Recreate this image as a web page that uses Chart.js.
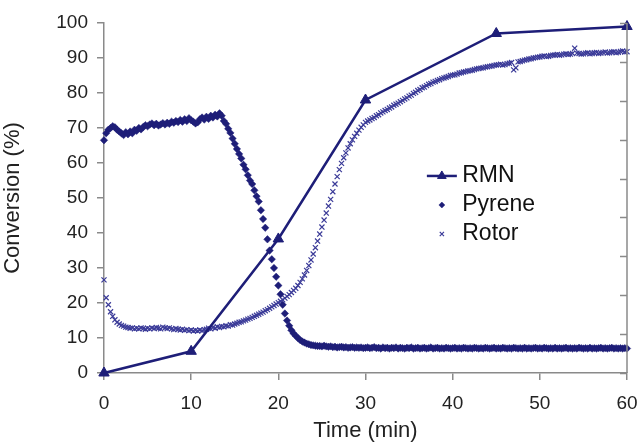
<!DOCTYPE html>
<html>
<head>
<meta charset="utf-8">
<script src="https://cdn.jsdelivr.net/npm/chart.js@4/dist/chart.umd.min.js"></script>
<style>
  html, body { margin: 0; padding: 0; background: #fff; }
  #wrap { width: 638px; height: 446px; }
</style>
</head>
<body>
<div id="wrap"><canvas id="chart" width="638" height="446"></canvas></div>
<script>
/* ---- data ---- */
const rmnTime = [0, 10, 20, 30, 45, 60];
const rmnConv = [0, 6.2, 38.3, 78, 97, 99];

// sampling times for the fluorescence probes (min), one row = 3 min
const probeTime = [
  0, 0.25, 0.5, 0.75, 1, 1.25, 1.5, 1.75, 2, 2.25, 2.5, 2.75,
  3, 3.25, 3.5, 3.75, 4, 4.25, 4.5, 4.75, 5, 5.25, 5.5, 5.75,
  6, 6.25, 6.5, 6.75, 7, 7.25, 7.5, 7.75, 8, 8.25, 8.5, 8.75,
  9, 9.25, 9.5, 9.75, 10, 10.25, 10.5, 10.75, 11, 11.25, 11.5, 11.75,
  12, 12.25, 12.5, 12.75, 13, 13.25, 13.5, 13.75, 14, 14.25, 14.5, 14.75,
  15, 15.25, 15.5, 15.75, 16, 16.25, 16.5, 16.75, 17, 17.25, 17.5, 17.75,
  18, 18.25, 18.5, 18.75, 19, 19.25, 19.5, 19.75, 20, 20.25, 20.5, 20.75,
  21, 21.25, 21.5, 21.75, 22, 22.25, 22.5, 22.75, 23, 23.25, 23.5, 23.75,
  24, 24.25, 24.5, 24.75, 25, 25.25, 25.5, 25.75, 26, 26.25, 26.5, 26.75,
  27, 27.25, 27.5, 27.75, 28, 28.25, 28.5, 28.75, 29, 29.25, 29.5, 29.75,
  30, 30.25, 30.5, 30.75, 31, 31.25, 31.5, 31.75, 32, 32.25, 32.5, 32.75,
  33, 33.25, 33.5, 33.75, 34, 34.25, 34.5, 34.75, 35, 35.25, 35.5, 35.75,
  36, 36.25, 36.5, 36.75, 37, 37.25, 37.5, 37.75, 38, 38.25, 38.5, 38.75,
  39, 39.25, 39.5, 39.75, 40, 40.25, 40.5, 40.75, 41, 41.25, 41.5, 41.75,
  42, 42.25, 42.5, 42.75, 43, 43.25, 43.5, 43.75, 44, 44.25, 44.5, 44.75,
  45, 45.25, 45.5, 45.75, 46, 46.25, 46.5, 46.75, 47, 47.25, 47.5, 47.75,
  48, 48.25, 48.5, 48.75, 49, 49.25, 49.5, 49.75, 50, 50.25, 50.5, 50.75,
  51, 51.25, 51.5, 51.75, 52, 52.25, 52.5, 52.75, 53, 53.25, 53.5, 53.75,
  54, 54.25, 54.5, 54.75, 55, 55.25, 55.5, 55.75, 56, 56.25, 56.5, 56.75,
  57, 57.25, 57.5, 57.75, 58, 58.25, 58.5, 58.75, 59, 59.25, 59.5, 59.75,
  60
];

const pyreneConv = [
  66.5, 68.5, 69.5, 70, 70.5, 70.2, 69.5, 69, 68.5, 68, 68.8, 68.2,
  69, 68.5, 69.5, 69.2, 70, 69.6, 70.3, 70.8, 70.5, 71, 71.3, 70.8,
  71.2, 70.7, 71, 71.4, 71, 71.5, 71.2, 71.8, 71.5, 72, 71.7, 72.3,
  71.8, 72.5, 72, 72.8, 72.2, 71.8, 71.3, 71.6, 72.5, 73, 72.4, 73.2,
  72.6, 73.5, 73, 73.8, 73.3, 74.2, 73.5, 72, 71.2, 69.8, 68.6, 67,
  65.5, 64, 62.6, 61.3, 59.5, 58.2, 56.5, 55, 54, 52.2, 50.5, 49,
  46.5, 44, 41.5, 38.2, 35, 32.5, 30, 27.5, 25, 22.5, 19.5, 17,
  15, 13.5, 12.2, 11.3, 10.6, 10, 9.4, 9, 8.7, 8.4, 8.2, 8,
  7.9, 7.8, 7.7, 7.7, 7.6, 7.8, 7.6, 7.5, 7.6, 7.4, 7.5, 7.3,
  7.4, 7.5, 7.3, 7.4, 7.2, 7.3, 7.4, 7.2, 7.3, 7.2, 7.3, 7.1,
  7.2, 7.3, 7.1, 7.2, 7.4, 7.1, 7.2, 7.0, 7.3, 7.1, 7.2, 7.0,
  7.2, 7.1, 7.3, 7.0, 7.2, 7.1, 7.0, 7.2, 7.1, 7.3, 7.0, 7.1,
  7.2, 7.0, 7.1, 7.2, 7.0, 7.1, 7.3, 7.0, 7.1, 7.2, 7.0, 7.1,
  7.0, 7.2, 7.1, 7.0, 7.1, 7.2, 7.0, 7.1, 7.0, 7.2, 7.1, 7.0,
  7.1, 7.0, 7.2, 7.1, 7.0, 7.1, 7.0, 7.2, 7.1, 7.0, 7.1, 7.2,
  7.0, 7.1, 7.0, 7.2, 7.1, 7.0, 7.1, 7.0, 7.2, 7.1, 7.0, 7.1,
  7.0, 7.2, 7.0, 7.1, 7.0, 7.1, 7.2, 7.0, 7.1, 7.0, 7.2, 7.1,
  7.0, 7.1, 7.0, 7.2, 7.0, 7.1, 7.0, 7.1, 7.2, 7.0, 7.1, 7.0,
  7.1, 7.0, 7.2, 7.1, 7.0, 7.1, 7.0, 7.2, 7.0, 7.1, 7.0, 7.1,
  7.2, 7.0, 7.1, 7.0, 7.1, 7.2, 7.0, 7.1, 7.0, 7.1, 7.0, 7.1,
  7.0
];

const rotorConv = [
  26.6, 21.5, 19.5, 17.5, 16.2, 15.2, 14.5, 14, 13.6, 13.4, 13.1, 13,
  12.8, 12.9, 12.6, 12.8, 12.6, 12.9, 12.7, 12.5, 12.8, 12.6, 12.9, 12.7,
  13, 12.8, 12.6, 13.1, 12.9, 12.7, 12.9, 12.6, 12.4, 12.7, 12.5, 12.3,
  12.5, 12.2, 12.4, 12.1, 12.3, 12, 12.2, 12, 12.3, 12.1, 12.4, 12.5,
  12.8, 12.6, 13, 12.8, 13.2, 13, 13.3, 13.2, 13.5, 13.4, 13.8, 13.7,
  14, 14.2, 14.5, 14.6, 14.9, 15.1, 15.4, 15.6, 15.9, 16.2, 16.5, 16.8,
  17.1, 17.4, 17.8, 18.1, 18.5, 18.9, 19.3, 19.7, 20.1, 20.5, 20.9, 21.4,
  21.9, 22.4, 23, 23.6, 24.2, 25, 25.9, 26.9, 28, 29.3, 30.7, 32.3,
  34, 35.8, 37.7, 39.7, 41.7, 43.7, 45.7, 47.7, 49.6, 51.8, 54, 56.1,
  58.1, 59.9, 61.5, 62.9, 64.3, 65.5, 66.6, 67.6, 68.5, 69.4, 70.2, 70.9,
  71.6, 72.0, 72.3, 72.7, 73.0, 73.5, 73.8, 74.3, 74.6, 75.0, 75.3, 75.7,
  76.0, 76.5, 76.8, 77.1, 77.5, 77.9, 78.3, 78.6, 79.1, 79.4, 79.9, 80.2,
  80.7, 81.0, 81.5, 81.7, 82.1, 82.5, 82.7, 83.1, 83.3, 83.6, 83.8, 84.1,
  84.3, 84.5, 84.7, 85.0, 85.1, 85.2, 85.4, 85.7, 85.8, 86.0, 86.1, 86.3,
  86.4, 86.5, 86.7, 86.9, 87.0, 87.1, 87.2, 87.4, 87.5, 87.6, 87.7, 87.9,
  88.0, 88.1, 88.2, 88.0, 88.1, 88.4, 88.5, 88.7, 86.6, 87.2, 88.9, 89.0,
  89.2, 89.4, 89.5, 89.7, 89.8, 90.0, 90.1, 90.2, 90.3, 90.5, 90.6, 90.4,
  90.5, 90.7, 90.8, 90.9, 91.0, 90.8, 90.9, 91.1, 91.2, 91.0, 91.1, 91.3,
  92.8, 91.4, 91.3, 91.1, 91.2, 91.4, 91.5, 91.2, 91.3, 91.5, 91.6, 91.3,
  91.4, 91.6, 91.7, 91.4, 91.5, 91.7, 91.8, 91.5, 91.6, 91.9, 92.0, 91.7,
  91.8
];

const xTicksMax = 60;
const yTicksMax = 100;

/* ---- styles ---- */
const NAVY = '#1e1e78';
const ROTOR = '#3a3a98';
const AXIS = '#8a8a8a';
const FONT = "'Liberation Sans', Arial, sans-serif";

const toPoints = (xs, ys) => xs.map((x, i) => ({ x: x, y: ys[i] }));

// legend drawn inside the plot, as in the original figure
const insideLegend = {
  id: 'insideLegend',
  afterDraw(chart) {
    const { ctx, chartArea: a } = chart;
    const rows = [0.437, 0.52, 0.603];
    const markX = a.left + a.width * 0.646;
    const textX = a.left + a.width * 0.685;
    ctx.save();
    ctx.font = '23px ' + FONT;
    ctx.textBaseline = 'middle';
    chart.data.datasets.forEach((ds, i) => {
      const y = a.top + a.height * rows[i];
      if (ds.showLine) {
        ctx.strokeStyle = ds.borderColor;
        ctx.lineWidth = ds.borderWidth;
        ctx.beginPath();
        ctx.moveTo(markX - 15, y);
        ctx.lineTo(markX + 15, y);
        ctx.stroke();
      }
      ctx.fillStyle = ds.pointBackgroundColor;
      ctx.strokeStyle = ds.pointBorderColor;
      ctx.lineWidth = ds.pointBorderWidth;
      Chart.helpers.drawPoint(ctx, {
        pointStyle: ds.pointStyle,
        radius: ds.legendRadius,
        borderWidth: ds.pointBorderWidth,
        rotation: 0
      }, markX, y);
      ctx.fillStyle = '#111';
      ctx.fillText(ds.label, textX, y);
    });
    ctx.restore();
  }
};

// right-hand frame with inward tick marks
const rightFrame = {
  id: 'rightFrame',
  afterDraw(chart) {
    const { ctx, chartArea: a } = chart;
    const s = chart.scales.y2;
    ctx.save();
    ctx.strokeStyle = AXIS;
    ctx.lineWidth = 1.5;
    ctx.beginPath();
    ctx.moveTo(a.right, a.top);
    ctx.lineTo(a.right, a.bottom);
    s.ticks.forEach(t => {
      const py = Math.round(s.getPixelForValue(t.value)) + 0.5;
      ctx.moveTo(a.right, py);
      ctx.lineTo(a.right - 7, py);
    });
    ctx.stroke();
    ctx.restore();
  }
};

new Chart(document.getElementById('chart'), {
  type: 'scatter',
  data: {
    datasets: [
      {
        label: 'RMN',
        data: toPoints(rmnTime, rmnConv),
        showLine: true,
        borderColor: NAVY,
        borderWidth: 2.5,
        pointStyle: 'triangle',
        pointRadius: 6,
        legendRadius: 5,
        pointBackgroundColor: NAVY,
        pointBorderColor: NAVY,
        pointBorderWidth: 1,
        clip: false,
        order: 1
      },
      {
        label: 'Pyrene',
        data: toPoints(probeTime, pyreneConv),
        showLine: false,
        pointStyle: 'rectRot',
        pointRadius: 3.7,
        legendRadius: 3,
        pointBackgroundColor: NAVY,
        pointBorderColor: NAVY,
        pointBorderWidth: 0.5,
        clip: false,
        order: 2
      },
      {
        label: 'Rotor',
        data: toPoints(probeTime, rotorConv),
        showLine: false,
        pointStyle: 'crossRot',
        pointRadius: 3.6,
        legendRadius: 3,
        pointBackgroundColor: ROTOR,
        pointBorderColor: ROTOR,
        pointBorderWidth: 1.2,
        clip: false,
        order: 3
      }
    ]
  },
  options: {
    responsive: false,
    animation: false,
    devicePixelRatio: 1,
    layout: { padding: { left: 0, top: 23, right: 11, bottom: 0 }, autoPadding: false },
    plugins: {
      legend: { display: false },
      tooltip: { enabled: false }
    },
    scales: {
      x: {
        type: 'linear',
        min: 0,
        max: xTicksMax,
        ticks: { stepSize: 10, padding: 12, color: '#222', font: { family: FONT, size: 19 } },
        grid: { drawOnChartArea: false, drawTicks: true, tickLength: 7, color: AXIS, lineWidth: 1.5 },
        border: { color: AXIS, width: 1.5 },
        title: {
          display: true,
          text: 'Time (min)',
          color: '#222',
          font: { family: FONT, size: 22 },
          padding: { top: 0, bottom: 2 }
        },
        afterFit(scale) {
          scale.height = 73;
          scale.paddingLeft = 0;
          scale.paddingRight = 0;
        }
      },
      y: {
        min: 0,
        max: yTicksMax,
        ticks: { stepSize: 10, padding: 9, color: '#222', font: { family: FONT, size: 19 } },
        grid: { drawOnChartArea: false, drawTicks: true, tickLength: 7, color: AXIS, lineWidth: 1.5 },
        border: { color: AXIS, width: 1.5 },
        title: {
          display: true,
          text: 'Conversion (%)',
          color: '#222',
          font: { family: FONT, size: 22 },
          padding: { top: 0, bottom: 9 }
        },
        afterFit(scale) {
          scale.width = 104;
          scale.paddingTop = 0;
          scale.paddingBottom = 0;
        }
      },
      y2: {
        position: 'right',
        min: 0,
        max: 9,
        ticks: { stepSize: 1, display: false },
        grid: { display: false },
        border: { display: false },
        afterFit(scale) { scale.width = 0; }
      }
    }
  },
  plugins: [insideLegend, rightFrame]
});
</script>
</body>
</html>
